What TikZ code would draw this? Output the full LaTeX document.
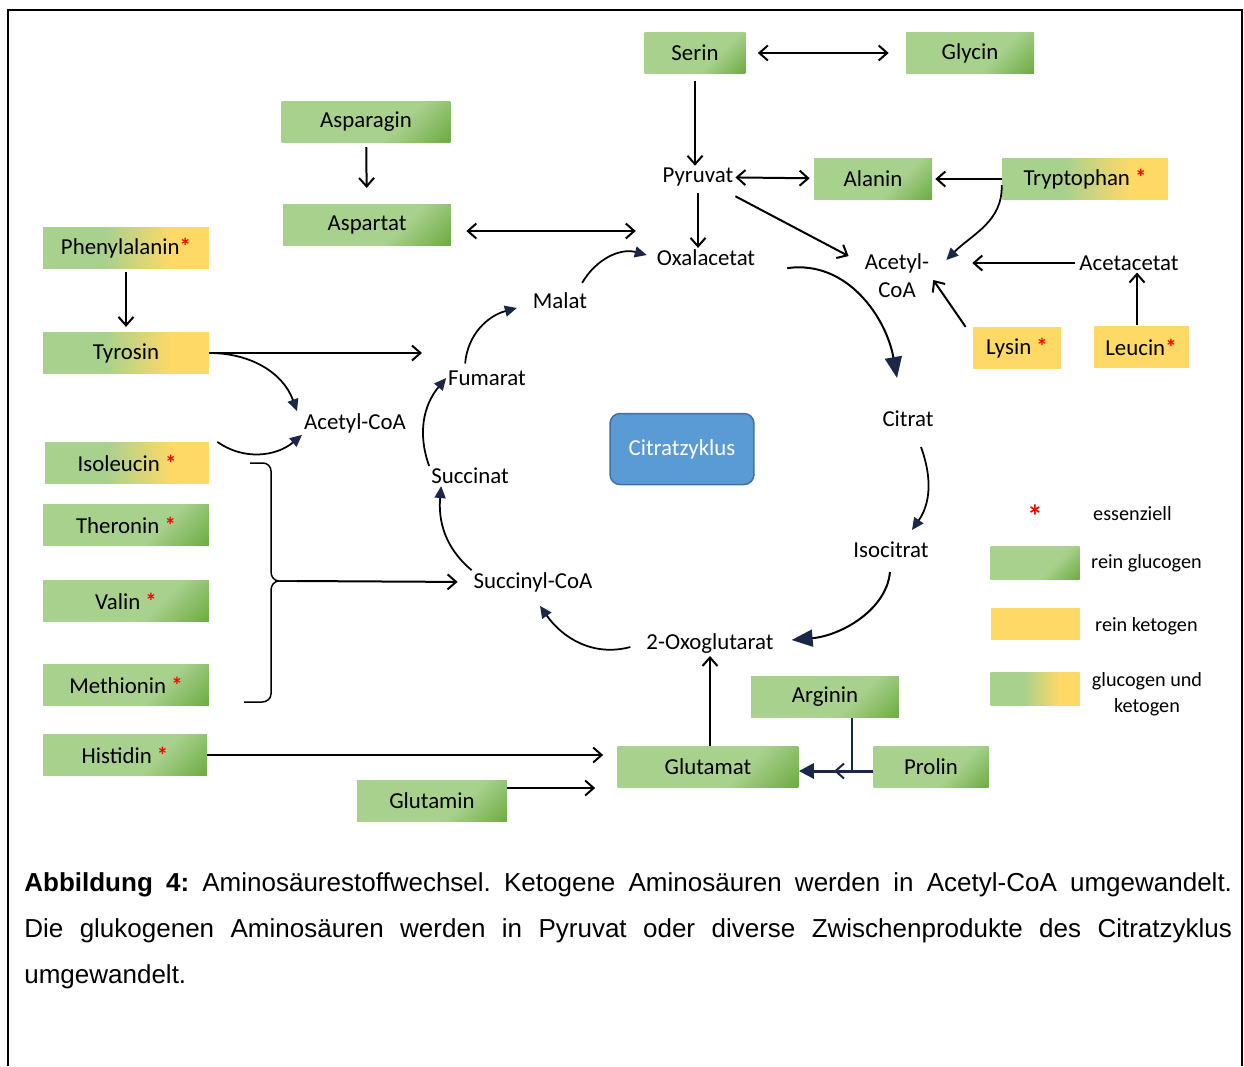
\documentclass[tikz,border=0pt]{standalone}
\usepackage{fontspec}
\setmainfont{Carlito}
\newfontfamily\capfont{Liberation Sans}
\usetikzlibrary{arrows.meta}
\usetikzlibrary{positioning}

\definecolor{gruenhell}{HTML}{A9D18E}
\definecolor{gruendunkel}{HTML}{70AD47}
\definecolor{gelb}{HTML}{FFD966}
\definecolor{zyklusblau}{HTML}{5B9BD5}
\definecolor{zyklusrand}{HTML}{41719C}
\definecolor{marine}{HTML}{1B2748}
\pgfdeclarehorizontalshading{glucogen}{100bp}{color(0bp)=(gruenhell); color(62bp)=(gruenhell); color(84bp)=(gruendunkel); color(100bp)=(gruendunkel)}
\pgfdeclarehorizontalshading{gemischt}{100bp}{color(0bp)=(gruenhell); color(44bp)=(gruenhell); color(64bp)=(gelb); color(100bp)=(gelb)}
\newcommand{\kastenfont}{\fontsize{13}{16}\selectfont}
\newcommand{\legendefont}{\fontsize{11.5}{14.7}\selectfont}
\newcommand{\ess}{\textcolor{red}{\textbf{*}}}
\frenchspacing

\begin{document}
\begin{tikzpicture}[x=0.02cm,y=-0.02cm,>={Straight Barb[length=0.17cm,width=0.3cm]},
  glu/.style={shade,shading=glucogen,shading angle=-45,minimum height=0.83cm,inner sep=0pt,font=\kastenfont},
  keto/.style={fill=gelb,minimum height=0.83cm,inner sep=0pt,font=\kastenfont},
  misch/.style={shade,shading=gemischt,minimum height=0.83cm,inner sep=0pt,font=\kastenfont},
  stoff/.style={inner sep=1pt,font=\kastenfont},
  pf/.style={line width=0.04cm},
  zy/.style={-{Triangle[length=0.24cm,width=0.22cm,color=marine]},line width=0.035cm},
  zygross/.style={-{Triangle[length=0.42cm,width=0.34cm,color=marine]},line width=0.04cm}]
\useasboundingbox (0,0) rectangle (1244,1066);
\draw[line width=0.03cm] (8,1066) -- (8,10) -- (1242,10) -- (1242,1066);

\node[glu,minimum width=2.02cm] (serin) at (695,53) {Serin};
\node[glu,minimum width=2.56cm] (glycin) at (970,53) {Glycin};
\node[glu,minimum width=3.38cm] (asparagin) at (366,122) {Asparagin};
\node[glu,minimum width=3.36cm] (aspartat) at (367,225) {Aspartat};
\node[misch,minimum width=3.32cm] (phenylalanin) at (126,248) {Phenylalanin\ess};
\node[misch,minimum width=3.32cm] (tyrosin) at (126,353) {Tyrosin};
\node[glu,minimum width=2.36cm] (alanin) at (873,179) {Alanin};
\node[misch,minimum width=3.32cm] (tryptophan) at (1085,179) {Tryptophan \ess};
\node[keto,minimum width=1.76cm] (lysin) at (1017,348) {Lysin \ess};
\node[keto,minimum width=1.9cm] (leucin) at (1141,347) {Leucin\ess};
\node[misch,minimum width=3.28cm] (isoleucin) at (127,463) {Isoleucin \ess};
\node[glu,minimum width=3.32cm] (theronin) at (126,525) {Theronin \ess};
\node[glu,minimum width=3.32cm] (valin) at (126,601) {Valin \ess};
\node[glu,minimum width=3.32cm] (methionin) at (126,685) {Methionin \ess};
\node[glu,minimum width=3.28cm] (histidin) at (125,755) {Histidin \ess};
\node[glu,minimum width=3cm] (glutamin) at (432,801) {Glutamin};
\node[glu,minimum width=3.62cm] (glutamat) at (708,767) {Glutamat};
\node[glu,minimum width=2.96cm] (arginin) at (825,697) {Arginin};
\node[glu,minimum width=2.3cm] (prolin) at (931,767) {Prolin};
\node[draw=zyklusrand,fill=zyklusblau,rounded corners=0.2cm,line width=0.03cm,minimum width=2.88cm,minimum height=1.42cm,text=white,font=\kastenfont] (zyklus) at (682,449) {Citratzyklus};

\node[stoff] (pyruvat) at (698,177) {Pyruvat};
\node[stoff] (oxalacetat) at (706,258) {Oxalacetat};
\node[stoff,align=center] (acoa) at (897,276) {Acetyl-\\CoA};
\node[stoff] (acetacetat) at (1129,263) {Acetacetat};
\node[stoff] (malat) at (560,301) {Malat};
\node[stoff] (fumarat) at (487,378) {Fumarat};
\node[stoff] (acoal) at (355,423) {Acetyl-CoA};
\node[stoff] (succinat) at (470,476) {Succinat};
\node[stoff] (succinylcoa) at (533,582) {Succinyl-CoA};
\node[stoff] (oxoglutarat) at (710,644) {2-Oxoglutarat};
\node[stoff] (citrat) at (908,419) {Citrat};
\node[stoff] (isocitrat) at (891,550) {Isocitrat};

\coordinate (tyrend) at (422,353);
\coordinate (klo) at (250,463);
\coordinate (klm) at (297,581);
\coordinate (klu) at (244,702);
\coordinate (knick) at (852,771);
\coordinate (barb) at (834,771);

\draw[pf,<->,shorten <=0.24cm,shorten >=0.34cm] (serin) -- (glycin);
\draw[pf,->,shorten <=0.13cm] (serin) -- (serin |- pyruvat.north);
\draw[pf,->,shorten <=0.08cm,shorten >=0.32cm] (asparagin) -- (aspartat);
\draw[pf,<->,shorten <=0.3cm,shorten >=0.38cm] ([yshift=-0.12cm]aspartat.east) -- ([yshift=-0.12cm]aspartat.east -| oxalacetat.west);
\draw[pf,->,shorten <=0.06cm,shorten >=0.1cm] (phenylalanin) -- (tyrosin);
\draw[pf,<->,shorten >=0.08cm] (pyruvat) -- (alanin);
\draw[pf,->,shorten >=0.06cm] (tryptophan) -- (alanin);
\draw[pf,->,shorten <=0.1cm] (pyruvat) -- (pyruvat |- oxalacetat.north);
\draw[pf,->,shorten >=0.32cm] ([yshift=-0.16cm]pyruvat.south east) -- (acoa.160);
\draw[zy] ([yshift=-0.12cm]tryptophan.west) to[out=-88,in=45] ([shift={(0.3cm,0.32cm)}]acoa.east);
\draw[pf,->,shorten <=0.04cm,shorten >=0.82cm] (acetacetat) -- (acetacetat -| acoa.east);
\draw[pf,->,shorten <=0.02cm] ([xshift=-0.08cm]leucin.north) -- ([xshift=-0.08cm]leucin.north |- acetacetat.south);
\draw[pf,->] ([xshift=-0.14cm]lysin.north west) -- ([shift={(0.04cm,-0.08cm)}]acoa.east);

\draw[zygross] ([xshift=0.6cm]oxalacetat.south east) to[out=8,in=100] ([shift={(-0.22cm,0.62cm)}]citrat.north);
\draw[zy] ([shift={(0.26cm,-0.36cm)}]citrat.south) to[out=-70,in=55] ([shift={(0.42cm,0.2cm)}]isocitrat.north);
\draw[zygross,shorten <=0.24cm] (isocitrat.south) to[out=-95,in=5] ([shift={(0.32cm,0.08cm)}]oxoglutarat.east);
\draw[zy] ([shift={(-0.28cm,-0.06cm)}]oxoglutarat.west) to[out=195,in=-55] ([shift={(0.14cm,-0.24cm)}]succinylcoa.south);
\draw[zy] (succinylcoa.north west) to[out=140,in=-95] ([xshift=0.24cm]succinat.south west);
\draw[zy] (succinat.north west) to[out=110,in=230] (fumarat.west);
\draw[zy] ([shift={(0.38cm,0.1cm)}]fumarat.north west) to[out=85,in=195] ([shift={(-0.28cm,-0.14cm)}]malat.west);
\draw[zy] ([shift={(-0.14cm,0.16cm)}]malat.north east) to[out=60,in=165] ([shift={(-0.16cm,0.06cm)}]oxalacetat.west);

\draw[pf,->] (tyrosin.east) -- (tyrend);
\draw[zy] (tyrosin.east) to[out=0,in=110] ([xshift=-0.1cm]acoal.north west);
\draw[zy] ([xshift=0.16cm]isoleucin.north east) to[out=-35,in=220] (acoal.south west);
\draw[line width=0.03cm] (klo) -- (263,463) to[out=0,in=90] (271,471) -- (271,572) to[out=-90,in=180] (279,581) -- (klm);
\draw[line width=0.03cm] (klm) -- (279,581) to[out=180,in=90] (271,590) -- (271,694) to[out=-90,in=0] (262,702) -- (klu);
\draw[pf,->,shorten >=0.28cm] (klm) -- (succinylcoa.west);

\draw[pf,->,shorten >=0.28cm] (histidin.east) -- (histidin.east -| glutamat.west);
\draw[pf,->,shorten >=0.44cm] ([yshift=0.26cm]glutamin.east) -- ([yshift=0.26cm]glutamin.east -| glutamat.west);
\draw[pf,->] ([xshift=0.04cm]glutamat.north) -- ([xshift=0.04cm]glutamat.north |- oxoglutarat.south);
\draw[line width=0.06cm,draw=marine,-{Triangle[length=0.3cm,width=0.3cm,color=marine]}] (prolin.west |- knick) -- (glutamat.east |- knick);
\draw[line width=0.05cm,draw=marine] (arginin.south -| knick) -- (knick);
\draw[pf,->,draw=marine] (knick) -- (barb);

\node[text=red,font=\fontsize{18}{18}\selectfont\bfseries] (stern) at (1035,516) {*};
\node[anchor=west,font=\legendefont] (essenziell) at (1087,514) {essenziell};
\node[glu,minimum width=1.78cm,minimum height=0.66cm] (legglu) at (1035,563) {};
\node[anchor=west,font=\legendefont] (legglutext) at (1085,563) {rein glucogen};
\node[keto,minimum width=1.78cm,minimum height=0.64cm] (legketo) at (1035,624) {};
\node[anchor=west,font=\legendefont] (legketotext) at (1089,626) {rein ketogen};
\node[misch,minimum width=1.78cm,minimum height=0.66cm] (legmisch) at (1035,689) {};
\node[align=center,font=\legendefont] (legmischtext) at (1147,694) {glucogen und\\ketogen};

\node[anchor=north west,text width=24.16cm,align=justify,inner sep=0pt,font=\capfont\fontsize{14.8}{26.2}\selectfont] (caption) at (24,872) {\textbf{Abbildung 4:} Aminosäurestoffwechsel. Ketogene Aminosäuren werden in Acetyl-CoA umgewandelt.\linebreak Die glukogenen Aminosäuren werden in Pyruvat oder diverse Zwischenprodukte des Citratzyklus\linebreak umgewandelt.};
\end{tikzpicture}
\end{document}
